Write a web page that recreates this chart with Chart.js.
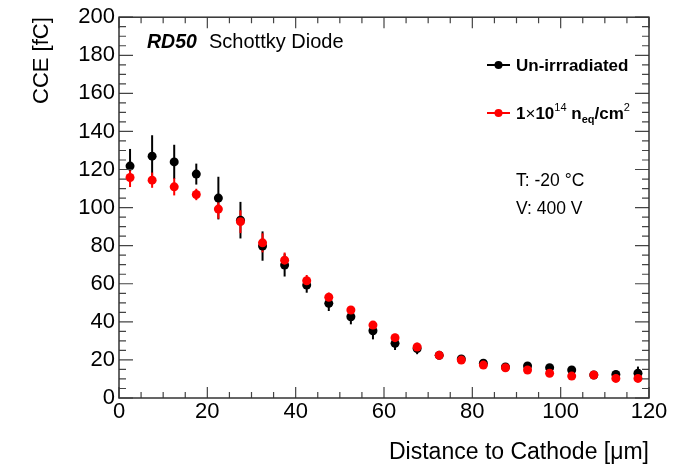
<!DOCTYPE html>
<html>
<head>
<meta charset="utf-8">
<script src="https://cdn.jsdelivr.net/npm/chart.js@4/dist/chart.umd.min.js"></script>
<style>
  body { margin: 0; background: #fff; }
  canvas { display: block; }
</style>
</head>
<body>
<canvas id="cce" width="690" height="466"></canvas>
<script>
// distance to cathode (bin centres, um)
const distances = [2.5, 7.5, 12.5, 17.5, 22.5, 27.5, 32.5, 37.5, 42.5, 47.5, 52.5, 57.5,
                   62.5, 67.5, 72.5, 77.5, 82.5, 87.5, 92.5, 97.5, 102.5, 107.5, 112.5, 117.5];

// un-irradiated diode
const unirrCce = [121.8, 127.0, 124.0, 117.6, 105.0, 93.4, 79.8, 69.8, 59.3, 49.7, 42.7, 35.3,
                  28.7, 26.0, 22.4, 20.5, 18.3, 16.3, 16.8, 15.9, 14.7, 12.1, 12.4, 13.0];
const unirrErr = [9.0, 11.0, 9.0, 5.5, 11.2, 9.6, 7.7, 6.0, 4.0, 4.0, 4.0, 4.5,
                  3.5, 3.0, 1.0, 1.0, 1.0, 1.0, 1.5, 1.5, 1.0, 1.0, 2.0, 3.5];

// 1e14 neq/cm2
const irrCce = [115.8, 114.4, 110.9, 106.9, 99.2, 92.6, 81.5, 72.4, 61.6, 52.9, 46.2, 38.3,
                31.7, 26.8, 22.4, 19.9, 17.3, 15.9, 14.7, 13.0, 11.5, 12.1, 10.3, 10.3];
const irrErr = [5.0, 4.0, 4.5, 3.0, 5.0, 6.0, 5.0, 4.0, 3.0, 2.5, 2.0, 2.0,
                2.0, 2.0, 1.0, 1.0, 1.0, 1.0, 1.0, 1.0, 1.0, 1.0, 1.0, 1.0];

const xTicks = [0, 20, 40, 60, 80, 100, 120];
const yTicks = [0, 20, 40, 60, 80, 100, 120, 140, 160, 180, 200];

const FONT = "'Liberation Sans', Arial, Helvetica, sans-serif";

function toPoints(xs, ys) {
    return xs.map((x, i) => ({ x: x, y: ys[i] }));
}

// ROOT-like frame with inner ticks, error bars, legend and labels
const rootStyle = {
    id: 'rootStyle',
    beforeDatasetsDraw(chart) {
        const ctx = chart.ctx;
        const ys = chart.scales.y;
        ctx.save();
        ctx.lineWidth = 2;
        chart.data.datasets.forEach((ds, i) => {
            const meta = chart.getDatasetMeta(i);
            ctx.strokeStyle = ds.borderColor;
            meta.data.forEach((pt, j) => {
                const v = ds.data[j].y, e = ds.errors[j];
                ctx.beginPath();
                ctx.moveTo(pt.x, ys.getPixelForValue(v + e));
                ctx.lineTo(pt.x, ys.getPixelForValue(v - e));
                ctx.stroke();
            });
        });
        ctx.restore();
    },
    afterDraw(chart) {
        const ctx = chart.ctx;
        const a = chart.chartArea;
        const xs = chart.scales.x, ys = chart.scales.y;
        ctx.save();

        // ticks
        ctx.strokeStyle = '#444';
        ctx.lineWidth = 1.2;
        ctx.beginPath();
        for (let v = xs.min; v <= xs.max; v += 5) {
            const px = xs.getPixelForValue(v);
            const major = v % 20 === 0;
            ctx.moveTo(px, a.bottom); ctx.lineTo(px, a.bottom - (major ? 11 : 6));
            ctx.moveTo(px, a.top); ctx.lineTo(px, a.top + (major ? 11 : 6));
        }
        for (let v = ys.min; v <= ys.max; v += 5) {
            const py = ys.getPixelForValue(v);
            const major = v % 20 === 0;
            ctx.moveTo(a.left, py); ctx.lineTo(a.left + (major ? 14 : 7), py);
            ctx.moveTo(a.right, py); ctx.lineTo(a.right - (major ? 14 : 7), py);
        }
        ctx.stroke();

        // frame
        ctx.strokeStyle = '#333';
        ctx.lineWidth = 1.5;
        ctx.strokeRect(a.left, a.top, a.right - a.left, a.bottom - a.top);

        // legend
        ctx.textBaseline = 'alphabetic';
        chart.data.datasets.forEach((ds, i) => {
            const ly = 65 + i * 48;
            ctx.strokeStyle = ds.borderColor;
            ctx.fillStyle = ds.backgroundColor;
            ctx.lineWidth = 2;
            ctx.beginPath();
            ctx.moveTo(487, ly); ctx.lineTo(510, ly);
            ctx.stroke();
            ctx.beginPath();
            ctx.arc(498.5, ly, 4, 0, Math.PI * 2);
            ctx.fill();
        });
        ctx.fillStyle = '#000';
        ctx.font = 'bold 17px ' + FONT;
        ctx.fillText('Un-irrradiated', 516, 71);

        // 1x10^14 n_eq/cm^2
        const parts = [
            ['1', 'bold 17px', 0],
            ['\u00d7', '17px', 0],
            ['10', 'bold 17px', 0],
            ['14', '11px', -8],
            [' n', 'bold 17px', 0],
            ['eq', 'bold 11px', 4],
            ['/cm', 'bold 17px', 0],
            ['2', '11px', -8]
        ];
        let tx = 516;
        parts.forEach(([t, f, dy]) => {
            ctx.font = f + ' ' + FONT;
            ctx.fillText(t, tx, 119 + dy);
            tx += ctx.measureText(t).width;
        });

        ctx.font = '17.5px ' + FONT;
        ctx.fillText('T: -20 \u00b0C', 516, 186);
        ctx.fillText('V: 400 V', 516, 214);

        ctx.font = 'italic bold 19.5px ' + FONT;
        ctx.fillText('RD50', 147, 48);
        ctx.font = '20px ' + FONT;
        ctx.fillText('Schottky Diode', 209, 48);

        ctx.restore();
    }
};

new Chart(document.getElementById('cce'), {
    type: 'scatter',
    data: {
        datasets: [
            {
                label: 'Un-irrradiated',
                data: toPoints(distances, unirrCce),
                errors: unirrErr,
                backgroundColor: '#000000',
                borderColor: '#000000',
                pointRadius: 4.5,
                pointBorderWidth: 0,
                order: 1
            },
            {
                label: '1\u00d710^14 neq/cm^2',
                data: toPoints(distances, irrCce),
                errors: irrErr,
                backgroundColor: '#ff0000',
                borderColor: '#ff0000',
                pointRadius: 4.5,
                pointBorderWidth: 0,
                order: 0
            }
        ]
    },
    options: {
        responsive: false,
        animation: false,
        devicePixelRatio: 1,
        layout: { padding: { top: 16, right: 41, left: 0, bottom: 0 } },
        plugins: { legend: { display: false }, tooltip: { enabled: false } },
        scales: {
            x: {
                type: 'linear',
                min: 0,
                max: 120,
                afterBuildTicks: (s) => { s.ticks = xTicks.map(v => ({ value: v })); },
                ticks: { color: '#000', font: { family: FONT, size: 22 }, padding: 1 },
                grid: { display: false, drawTicks: false },
                border: { display: false },
                title: {
                    display: true,
                    text: 'Distance to Cathode [\u03bcm]',
                    align: 'end',
                    color: '#000',
                    font: { family: FONT, size: 23 },
                    padding: { top: 0, bottom: 0 }
                },
                afterFit: (s) => { s.height = 68; }
            },
            y: {
                min: 0,
                max: 200,
                afterBuildTicks: (s) => { s.ticks = yTicks.map(v => ({ value: v })); },
                ticks: { color: '#000', font: { family: FONT, size: 22 }, padding: 4 },
                grid: { display: false, drawTicks: false },
                border: { display: false },
                title: {
                    display: true,
                    text: 'CCE [fC]',
                    align: 'end',
                    color: '#000',
                    font: { family: FONT, size: 22 },
                    padding: { top: 29, bottom: 0 }
                },
                afterFit: (s) => { s.width = 119; }
            }
        }
    },
    plugins: [rootStyle]
});
</script>
</body>
</html>
